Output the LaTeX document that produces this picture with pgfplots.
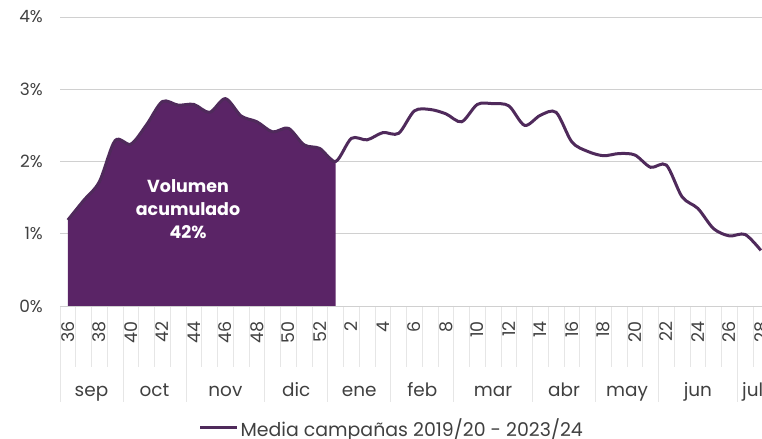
\documentclass[border=0pt]{standalone}
\usepackage{fontspec}
\setmainfont{Poppins}
\usepackage{pgfplots}
\usepackage{pgfplotstable}
\pgfplotsset{compat=1.18}
\definecolor{areac}{HTML}{5A2466}
\definecolor{linec}{HTML}{4F2A5B}
\definecolor{txt}{HTML}{404040}
\definecolor{gridc}{HTML}{D0D0D0}
\definecolor{sepc}{HTML}{E6E6E6}

\pgfplotstableread{
k v
0 1.19
1 1.46
2 1.72
3 2.29
4 2.24
5 2.51
6 2.83
7 2.78
8 2.79
9 2.68
10 2.87
11 2.63
12 2.55
13 2.41
14 2.46
15 2.23
16 2.18
17 2.00
18 2.32
19 2.30
20 2.40
21 2.39
22 2.70
23 2.72
24 2.66
25 2.55
26 2.79
27 2.80
28 2.77
29 2.50
30 2.64
31 2.68
32 2.27
33 2.14
34 2.08
35 2.11
36 2.09
37 1.92
38 1.95
39 1.51
40 1.35
41 1.07
42 0.97
43 0.99
44 0.77
}\datatable

\begin{document}
\begin{tikzpicture}
% week separators
\foreach \i in {0,...,45} {
  \draw[sepc, line width=0.7bp] (60bp+\i*15.75bp,133bp) -- (60bp+\i*15.75bp,72bp);
}
% month separators
\foreach \i in {0,4,8,13,17,21,25,30,34,38,43} {
  \draw[sepc, line width=0.8bp] (60bp+\i*15.75bp,133bp) -- (60bp+\i*15.75bp,37bp);
}
% month labels
\foreach \c/\m in {1.5/sep,5.5/oct,10/nov,14.5/dic,18.5/ene,22.5/feb,27/mar,31.5/abr,35.5/may,40/jun} {
  \node[anchor=base, text=txt, font=\fontsize{18.5}{20}\selectfont, inner sep=0pt] at (67.875bp+\c*15.75bp,42bp) {\m};
}
\node[anchor=base west, text=txt, font=\fontsize{18.5}{20}\selectfont, inner sep=0pt] at (742bp,42bp) {jul};
\begin{axis}[
  at={(60bp,133bp)}, anchor=south west,
  scale only axis, width=708.75bp, height=289bp,
  xmin=-0.5, xmax=44.5, ymin=0, ymax=4,
  axis line style={draw=none},
  major tick length=0pt,
  ytick={0,1,2,3,4},
  yticklabels={0\%,1\%,2\%,3\%,4\%},
  ymajorgrids,
  grid style={gridc, line width=0.8bp},
  yticklabel style={text=txt, font=\fontsize{17}{18}\selectfont, inner sep=0pt, xshift=-17bp, anchor=east},
  xtick={0,2,...,44},
  xticklabels={36,38,40,42,44,46,48,50,52,2,4,6,8,10,12,14,16,18,20,22,24,26,28},
  xticklabel style={text=txt, font=\fontsize{17.5}{18}\selectfont, inner sep=0pt, yshift=-15bp, rotate=90, anchor=east},
  legend style={at={(0.468,-0.422)}, anchor=center, draw=none, fill=none,
    font=\fontsize{19}{21}\selectfont, text=txt, inner sep=0pt},
  legend image code/.code={\draw[#1] (0bp,0bp) -- (37bp,0bp);},
]
\addplot[fill=areac, draw=none, smooth, forget plot, restrict x to domain=0:17] table[x=k, y=v] {\datatable} \closedcycle;
\addplot[linec, line width=3bp, smooth] table[x=k, y=v] {\datatable};
\addlegendentry{Media campañas 2019/20 - 2023/24}
\node[text=white, font=\bfseries\fontsize{17.5}{23.5}\selectfont, align=center] at (axis cs:7.63,1.34) {Volumen\\acumulado\\42\%};
\end{axis}
\pgfresetboundingbox
\useasboundingbox (0,0) rectangle (762bp,439bp);
\end{tikzpicture}
\end{document}
